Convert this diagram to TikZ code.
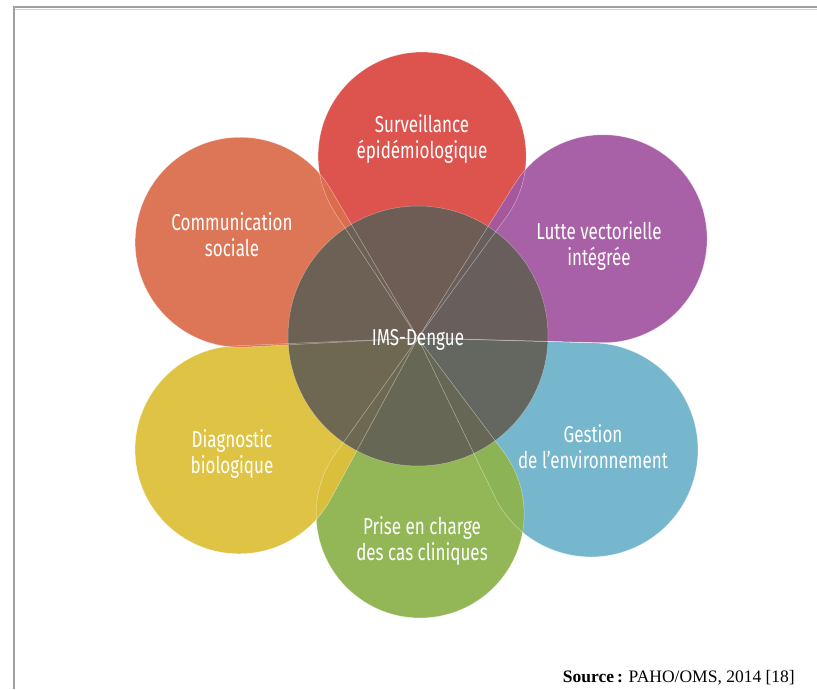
\documentclass[tikz,border=0pt]{standalone}
\usepackage{fontspec}
\setmainfont{Liberation Serif}
\newfontfamily\labfont{Fira Sans}[FakeStretch=0.74]
\definecolor{cred}{HTML}{DC4A45}
\definecolor{cpurple}{HTML}{A459A2}
\definecolor{cblue}{HTML}{6FB4CB}
\definecolor{cgreen}{HTML}{8EB44F}
\definecolor{cyellow}{HTML}{DDC03B}
\definecolor{corange}{HTML}{DB6F4F}
\definecolor{ccore}{HTML}{625F55}
\definecolor{cframe}{HTML}{A0A0A4}
\tikzset{
  petalfill/.style={fill=#1, fill opacity=0.95},
  petaledge/.style={draw=white, draw opacity=0.45, line width=0.5pt},
  lab/.style={text=white, align=center, font=\labfont\fontsize{23}{26}\selectfont},
}
% #1 style, #2 direction angle, #3 distance of head centre, #4 head radius
\newcommand\petalpath[4]{%
  \pgfmathsetmacro\pal{asin(#4/#3)}%
  \pgfmathsetmacro\pL{#3*cos(\pal)}%
  \pgfmathsetmacro\pa{#2-\pal}%
  \pgfmathsetmacro\pb{#2-90-\pal}%
  \pgfmathsetmacro\pc{#2+90+\pal}%
  \path[#1] (O) -- ++(\pa:\pL pt) arc[start angle=\pb, end angle=\pc, radius=#4pt] -- cycle;%
}
\begin{document}
\begin{tikzpicture}[x=1pt,y=1pt]
\useasboundingbox (0,0) rectangle (817,689);
\fill[white] (0,0) rectangle (817,689);
% frame
\draw[cframe, line width=2pt] (13.5,0) -- (13.5,681.5) -- (817,681.5);
\draw[gray!35, line width=0.8pt] (14.5,680) -- (817,680);
\coordinate (O) at (418,351);
% petals: fills
\petalpath{petalfill=cred}{88.7}{182}{104}
\petalpath{petalfill=cpurple}{28.2}{210}{104}
\petalpath{petalfill=cblue}{-32.9}{206}{107}
\petalpath{petalfill=cgreen}{-89.3}{176}{104}
\petalpath{petalfill=cyellow}{212}{211}{104}
\petalpath{petalfill=corange}{151.7}{202}{105}
% centre
\fill[ccore, fill opacity=0.9] (O) ++(0,2) circle[radius=130pt];
% edges
\petalpath{petaledge}{88.7}{182}{104}
\petalpath{petaledge}{28.2}{210}{104}
\petalpath{petaledge}{-32.9}{206}{107}
\petalpath{petaledge}{-89.3}{176}{104}
\petalpath{petaledge}{212}{211}{104}
\petalpath{petaledge}{151.7}{202}{105}
\draw[white, draw opacity=0.35, line width=0.5pt] (O) ++(0,2) circle[radius=130pt];
% labels
\node[lab] (surv) at (422,550) {Surveillance\\épidémiologique};
\node[lab] (lutte) at (599,443) {Lutte vectorielle\\intégrée};
\node[lab] (gest) at (593,242) {Gestion\\de l’environnement};
\node[lab] (prise) at (422,148) {Prise en charge\\des cas cliniques};
\node[lab] (diag) at (232,235) {Diagnostic\\biologique};
\node[lab] (comm) at (232,454) {Communication\\sociale};
\node[lab] (ims) at (418,349) {IMS-Dengue};
\node[anchor=base east, inner sep=0pt, font=\fontsize{17.5}{20}\selectfont] (src) at (795,7) {\textbf{Source\,:} PAHO/OMS, 2014 [18]};
\end{tikzpicture}
\end{document}
